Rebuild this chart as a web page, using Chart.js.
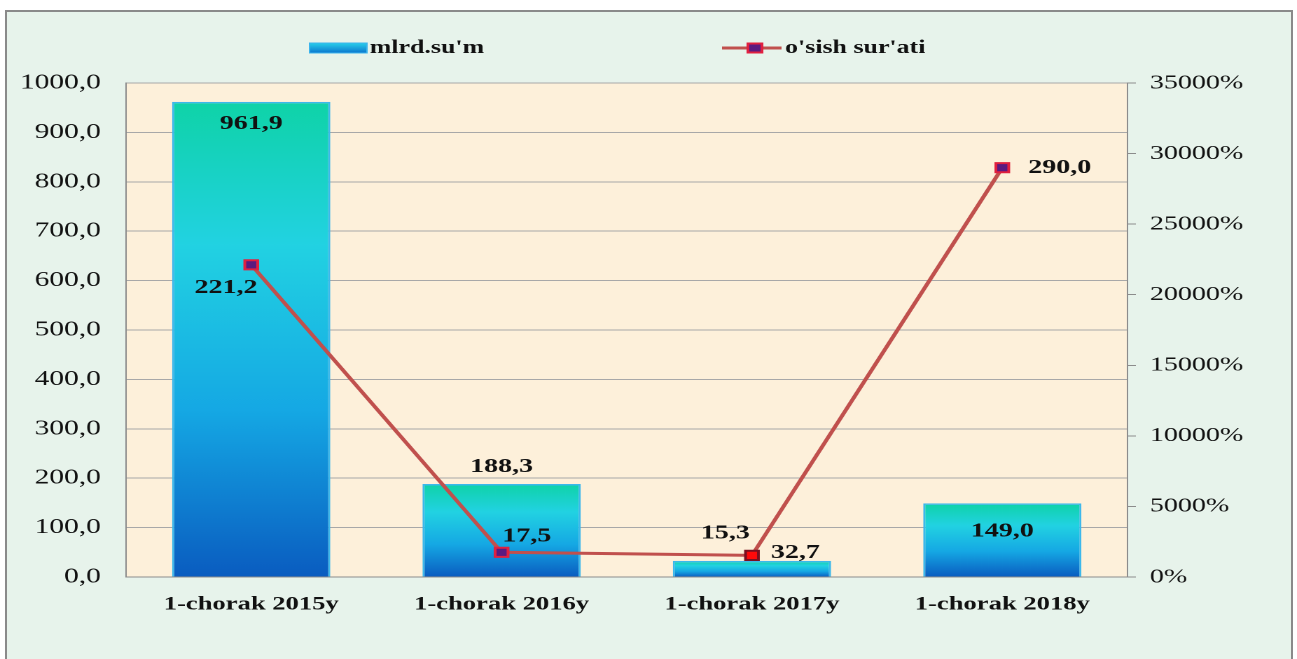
<!DOCTYPE html>
<html>
<head>
<meta charset="utf-8">
<script src="https://cdn.jsdelivr.net/npm/chart.js@4/dist/chart.umd.min.js"></script>
<style>
  body { margin: 0; background: #fff; overflow: hidden; }
  .frame {
    position: absolute; left: 5px; top: 10px; width: 1284px; height: 660px;
    border: 2px solid #8a8a8a; background: #e7f3eb;
  }
  #chart {
    position: absolute; left: 0; top: 0;
    transform: scaleX(1.4006); transform-origin: 0 0;
  }
</style>
</head>
<body>
<div class="frame"></div>
<canvas id="chart" width="926" height="659"></canvas>
<script>
// the source picture is stretched sideways, so the canvas is drawn narrow and scaled in x
const categories = ['1-chorak 2015y', '1-chorak 2016y', '1-chorak 2017y', '1-chorak 2018y'];
const amounts = [961.9, 188.3, 32.7, 149.0];          // mlrd.su'm
const growth = [22120, 1750, 1530, 29000];             // o'sish sur'ati, %
const leftTicks = { min: 0, max: 1000, step: 100 };
const rightTicks = { min: 0, max: 35000, step: 5000 };

const serif = '"Liberation Serif", "Times New Roman", serif';
const comma = v => v.toFixed(1).replace('.', ',');

// label offsets next to each mark (canvas px)
const barLabelPos = [[0, 22], [0, -17], [31, -8], [0, 28]];
const lineLabelPos = [[-18, 23], [18, -16], [-19, -22], [41, 0]];

const plotBg = {
  id: 'plotBg',
  beforeDraw(chart) {
    const { ctx, chartArea: a } = chart;
    ctx.save();
    ctx.fillStyle = '#fdf0da';
    ctx.fillRect(a.left, a.top, a.right - a.left, a.bottom - a.top);
    ctx.restore();
  }
};

const valueLabels = {
  id: 'valueLabels',
  afterDatasetsDraw(chart) {
    const ctx = chart.ctx;
    ctx.save();
    ctx.font = 'bold 20px ' + serif;
    ctx.fillStyle = '#111';
    ctx.textAlign = 'center';
    ctx.textBaseline = 'middle';
    chart.getDatasetMeta(0).data.forEach((el, i) => {
      ctx.fillText(comma(amounts[i]), el.x + barLabelPos[i][0], el.y + barLabelPos[i][1]);
    });
    chart.getDatasetMeta(1).data.forEach((el, i) => {
      ctx.fillText(comma(growth[i] / 100), el.x + lineLabelPos[i][0], el.y + lineLabelPos[i][1]);
    });
    ctx.restore();
  }
};

const topLegend = {
  id: 'topLegend',
  afterDraw(chart) {
    const ctx = chart.ctx;
    const y = 48;
    ctx.save();
    // bar swatch
    const g = ctx.createLinearGradient(0, y - 5, 0, y + 6);
    g.addColorStop(0, '#28d0ea');
    g.addColorStop(1, '#0a6ccc');
    ctx.fillStyle = g;
    ctx.fillRect(221, y - 5, 41, 10);
    ctx.strokeStyle = '#3cb4ec';
    ctx.lineWidth = 1;
    ctx.strokeRect(221, y - 5, 41, 10);
    ctx.font = 'bold 18.5px ' + serif;
    ctx.fillStyle = '#111';
    ctx.textBaseline = 'middle';
    ctx.fillText("mlrd.su'm", 264, y);
    // line swatch
    ctx.strokeStyle = '#c0504d';
    ctx.lineWidth = 3;
    ctx.beginPath();
    ctx.moveTo(515.5, y);
    ctx.lineTo(558, y);
    ctx.stroke();
    ctx.fillStyle = '#5a1a80';
    ctx.strokeStyle = '#e02040';
    ctx.lineWidth = 2;
    ctx.fillRect(534, y - 4.5, 10, 9);
    ctx.strokeRect(534, y - 4.5, 10, 9);
    ctx.fillStyle = '#111';
    ctx.fillText("o'sish sur'ati", 560.5, y);
    ctx.restore();
  }
};

function barGradient(c) {
  const chart = c.chart;
  if (!chart.chartArea || c.raw == null) return '#20b8e0';
  const ys = chart.scales.y;
  const top = ys.getPixelForValue(c.raw);
  const bot = ys.getPixelForValue(0);
  const g = chart.ctx.createLinearGradient(0, top, 0, bot);
  g.addColorStop(0, '#0fd3a8');
  g.addColorStop(0.3, '#22d2e2');
  g.addColorStop(0.65, '#15a8e4');
  g.addColorStop(1, '#0a5cc0');
  return g;
}

new Chart(document.getElementById('chart'), {
  type: 'bar',
  data: {
    labels: categories,
    datasets: [{
      type: 'bar',
      label: "mlrd.su'm",
      data: amounts,
      yAxisID: 'y',
      backgroundColor: barGradient,
      borderColor: '#3cb8ec',
      borderWidth: 1.5,
      categoryPercentage: 1,
      barPercentage: 0.632,
      order: 2
    }, {
      type: 'line',
      label: "o'sish sur'ati",
      data: growth,
      yAxisID: 'y1',
      borderColor: '#c0504d',
      borderWidth: 3,
      pointStyle: 'rect',
      pointRadius: 6.5,
      pointBorderWidth: 2,
      pointBackgroundColor: ['#5a1a80', '#5a1a80', '#ff0a0a', '#5a1a80'],
      pointBorderColor: ['#e02040', '#e02040', '#7a1020', '#e02040'],
      tension: 0,
      order: 1
    }]
  },
  options: {
    responsive: false,
    animation: false,
    devicePixelRatio: 2,
    layout: { padding: { top: 83, left: 0, right: 0, bottom: 0 } },
    plugins: { legend: { display: false }, tooltip: { enabled: false } },
    scales: {
      x: {
        grid: { display: false },
        border: { display: true, color: '#8c8c8c' },
        ticks: { color: '#111', font: { family: serif, size: 19, weight: 'bold' }, padding: 8 },
        afterFit(s) { s.height = 82; }
      },
      y: {
        position: 'left',
        min: leftTicks.min, max: leftTicks.max,
        grid: { color: '#a8a8a8', drawTicks: false },
        border: { display: true, color: '#8c8c8c' },
        ticks: { stepSize: leftTicks.step, color: '#111', font: { family: serif, size: 21 }, padding: 18,
                 callback: v => comma(v) },
        afterFit(s) { s.width = 90; }
      },
      y1: {
        position: 'right',
        min: rightTicks.min, max: rightTicks.max,
        grid: { drawOnChartArea: false, drawTicks: true, tickLength: 6, color: '#8c8c8c' },
        border: { display: true, color: '#8c8c8c' },
        ticks: { stepSize: rightTicks.step, color: '#111', font: { family: serif, size: 20 }, padding: 10,
                 callback: v => v + '%' },
        afterFit(s) { s.width = 121; }
      }
    }
  },
  plugins: [plotBg, valueLabels, topLegend]
});
</script>
</body>
</html>
